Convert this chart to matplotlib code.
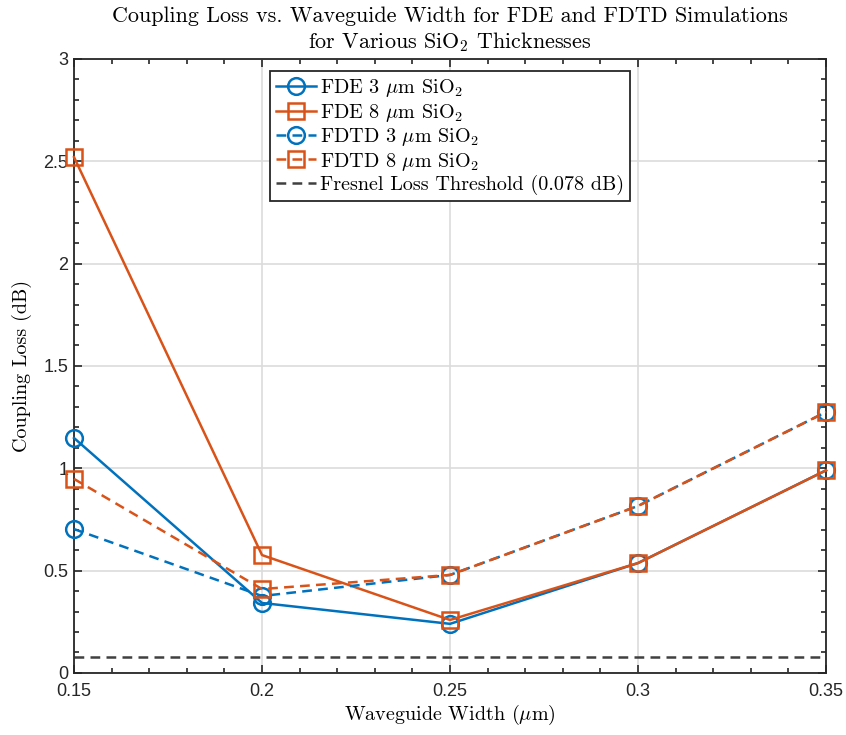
import numpy as np
import matplotlib
matplotlib.use("Agg")
import matplotlib.pyplot as plt
from matplotlib.ticker import MultipleLocator

# waveguide widths (um)
width = [0.15, 0.20, 0.25, 0.30, 0.35]

# coupling loss (dB)
fde_3 = [1.148, 0.342, 0.240, 0.537, 0.990]
fde_8 = [2.520, 0.576, 0.259, 0.537, 0.990]
fdtd_3 = [0.703, 0.376, 0.479, 0.816, 1.275]
fdtd_8 = [0.948, 0.410, 0.479, 0.816, 1.275]
fresnel = 0.078

blue = "#0072BD"
orange = "#D95319"

plt.rcParams["mathtext.fontset"] = "cm"
plt.rcParams["axes.formatter.use_mathtext"] = True
plt.rcParams["lines.dashed_pattern"] = (3.9, 2.5)
serif = "cmr10"

fig = plt.figure(figsize=(8.46, 7.35), dpi=100)
ax = fig.add_axes([0.0875, 0.0844, 0.8889, 0.8354])

kw = dict(lw=1.8, mfc="none", mew=1.8, clip_on=False, zorder=3)
ax.plot(width, fde_3, "-o", color=blue, ms=12,
        label=r"FDE 3 $\mu$m SiO$_2$", **kw)
ax.plot(width, fde_8, "-s", color=orange, ms=11,
        label=r"FDE 8 $\mu$m SiO$_2$", **kw)
ax.plot(width, fdtd_3, "--o", color=blue, ms=12,
        label=r"FDTD 3 $\mu$m SiO$_2$", **kw)
ax.plot(width, fdtd_8, "--s", color=orange, ms=11,
        label=r"FDTD 8 $\mu$m SiO$_2$", **kw)
ax.axhline(fresnel, color="#404040", ls="--", lw=1.8,
           label="Fresnel Loss Threshold (0.078 dB)")

ax.set_xlim(0.15, 0.35)
ax.set_ylim(0, 3)
ax.xaxis.set_minor_locator(MultipleLocator(0.01))
ax.yaxis.set_minor_locator(MultipleLocator(0.1))
ax.set_xticks(width)
ax.set_xticklabels(["0.15", "0.2", "0.25", "0.3", "0.35"])
ax.set_yticks([0, 0.5, 1, 1.5, 2, 2.5, 3])
ax.set_yticklabels(["0", "0.5", "1", "1.5", "2", "2.5", "3"])
ax.tick_params(which="both", direction="in", top=True, right=True,
               labelsize=13, colors="#262626", width=1.2)
ax.tick_params(which="major", length=6)
ax.tick_params(which="minor", length=3.5)
ax.tick_params(axis="x", which="major", pad=7)
ax.tick_params(axis="y", which="major", pad=4)
for lab in ax.get_xticklabels() + ax.get_yticklabels():
    lab.set_fontfamily("Liberation Sans")
    lab.set_color("#262626")
for s in ax.spines.values():
    s.set_linewidth(1.3)
    s.set_color("#262626")
ax.grid(True, which="major", color="#dcdcdc", lw=1.2)
ax.set_axisbelow(True)

ax.set_xlabel(r"Waveguide Width ($\mu$m)", fontsize=14.5, family=serif, labelpad=2)
ax.set_ylabel("Coupling Loss (dB)", fontsize=14.5, family=serif)
ax.yaxis.set_label_coords(-0.056, 0.5)
ax.set_title("Coupling Loss vs. Waveguide Width for FDE and FDTD Simulations\n"
             r"for Various SiO$_2$ Thicknesses", fontsize=15.9, family=serif,
             linespacing=1.2, pad=8)

leg = ax.legend(loc="upper center", bbox_to_anchor=(0.5, 0.98), fancybox=False,
                edgecolor="#262626", framealpha=1, prop={"family": serif, "size": 14.5},
                handlelength=2.0, handletextpad=0.2, borderpad=0.3,
                labelspacing=0.12, borderaxespad=0)
leg.get_frame().set_linewidth(1.3)

fig.savefig("out.png", dpi=100)
